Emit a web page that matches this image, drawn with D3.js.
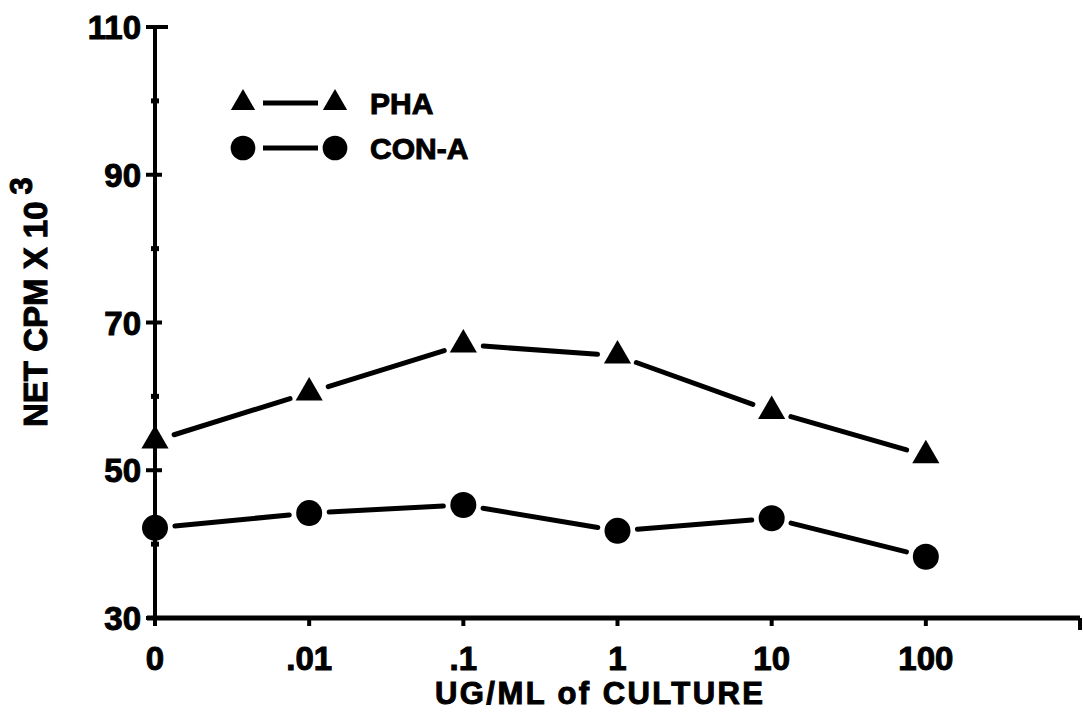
<!DOCTYPE html>
<html>
<head>
<meta charset="utf-8">
<script src="https://cdn.jsdelivr.net/npm/d3@7"></script>
<style>
  body { margin: 0; background: #fff; }
  svg text { font-family: "Liberation Sans", Arial, sans-serif; font-weight: bold; fill: #000; stroke: #000; stroke-width: 1; }
</style>
</head>
<body>
<svg id="canvas" width="1083" height="724"></svg>
<script>
// dose labels along the bottom (last slot is the bare end of the axis)
var doses = ["0", ".01", ".1", "1", "10", "100", ""];
var phaValues = [54, 60.5, 67, 65.5, 58, 52];
var conaValues = [42.2, 44.2, 45.3, 41.8, 43.5, 38.3];
var majorTicks = [30, 50, 70, 90, 110];
var minorTicks = [40, 60, 80, 100];

var svg = d3.select("#canvas");

var x = d3.scalePoint()
    .domain(d3.range(doses.length))
    .range([155, 1080]);

var y = d3.scaleLinear()
    .domain([30, 110])
    .range([618, 27]);

// axes
svg.append("line")
    .attr("x1", x(0)).attr("y1", y(110))
    .attr("x2", x(0)).attr("y2", y(30) + 6)
    .attr("stroke", "#000").attr("stroke-width", 4);

svg.append("line")
    .attr("x1", x(0) - 8).attr("y1", y(30))
    .attr("x2", x(6)).attr("y2", y(30))
    .attr("stroke", "#000").attr("stroke-width", 5);

// y ticks
svg.selectAll(".major").data(majorTicks).enter().append("line")
    .attr("x1", x(0) - 9)
    .attr("x2", function(d){ return d == 110 ? x(0) + 13 : x(0) + 7; })
    .attr("y1", function(d){ return y(d); })
    .attr("y2", function(d){ return y(d); })
    .attr("stroke", "#000").attr("stroke-width", 4);

svg.selectAll(".minor").data(minorTicks).enter().append("line")
    .attr("x1", x(0) - 4).attr("x2", x(0) + 4)
    .attr("y1", function(d){ return y(d); })
    .attr("y2", function(d){ return y(d); })
    .attr("stroke", "#000").attr("stroke-width", 5);

svg.selectAll(".ylab").data(majorTicks).enter().append("text")
    .attr("x", 141)
    .attr("y", function(d){ return y(d) + 12; })
    .attr("text-anchor", "end")
    .attr("font-size", 33)
    .text(function(d){ return d; });

// x ticks
svg.selectAll(".xt").data(d3.range(doses.length)).enter().append("line")
    .attr("x1", function(d){ return x(d); })
    .attr("x2", function(d){ return x(d); })
    .attr("y1", y(30))
    .attr("y2", function(d){ return d == 6 ? y(30) + 12 : y(30) + 8; })
    .attr("stroke", "#000").attr("stroke-width", 4);

svg.selectAll(".xlab").data(doses).enter().append("text")
    .attr("x", function(d, i){ return x(i); })
    .attr("y", 670)
    .attr("text-anchor", "middle")
    .attr("font-size", 33)
    .text(function(d){ return d; });

// axis titles
svg.append("text")
    .attr("x", 599)
    .attr("y", 704)
    .attr("text-anchor", "middle")
    .attr("font-size", 31)
    .attr("textLength", 328)
    .text("UG/ML of CULTURE");

var yt = svg.append("text")
    .attr("transform", "translate(47,427) rotate(-90)")
    .attr("font-size", 33);
yt.append("tspan").text("NET CPM X 10");
yt.append("tspan").attr("dx", 7).attr("dy", -15).attr("font-size", 31).text("3");

// series: segments with gaps around markers
function drawSeries(values, shape){
    var pts = values.map(function(v, i){ return [x(i), y(v)]; });
    for (var i = 0; i < pts.length - 1; i++){
        var a = pts[i], b = pts[i+1];
        var dx = b[0] - a[0], dy = b[1] - a[1];
        var len = Math.sqrt(dx*dx + dy*dy);
        var gap = 20;
        svg.append("line")
            .attr("x1", a[0] + dx/len*gap).attr("y1", a[1] + dy/len*gap)
            .attr("x2", b[0] - dx/len*gap).attr("y2", b[1] - dy/len*gap)
            .attr("stroke", "#000").attr("stroke-width", 5)
            .attr("stroke-linecap", "round");
    }
    pts.forEach(function(p){ drawMarker(p[0], p[1], shape, 1); });
}

function drawMarker(cx, cy, shape, s){
    if (shape == "triangle"){
        svg.append("path")
            .attr("d", d3.symbol().type(d3.symbolTriangle).size(320*s)())
            .attr("transform", "translate(" + cx + "," + cy + ")")
            .attr("fill", "#000");
    } else {
        svg.append("circle")
            .attr("cx", cx).attr("cy", cy).attr("r", 13*s)
            .attr("fill", "#000");
    }
}

drawSeries(phaValues, "triangle");
drawSeries(conaValues, "circle");

// legend
var legend = [{label: "PHA", shape: "triangle", y: 103}, {label: "CON-A", shape: "circle", y: 148}];
legend.forEach(function(l){
    drawMarker(243, l.y, l.shape, l.shape == "triangle" ? 0.8 : 0.95);
    svg.append("line")
        .attr("x1", 263).attr("x2", 318)
        .attr("y1", l.y).attr("y2", l.y)
        .attr("stroke", "#000").attr("stroke-width", 5);
    drawMarker(335, l.y, l.shape, l.shape == "triangle" ? 0.8 : 0.95);
    svg.append("text")
        .attr("x", 370).attr("y", l.y + 11)
        .attr("font-size", 30)
        .text(l.label);
});
</script>
</body>
</html>
